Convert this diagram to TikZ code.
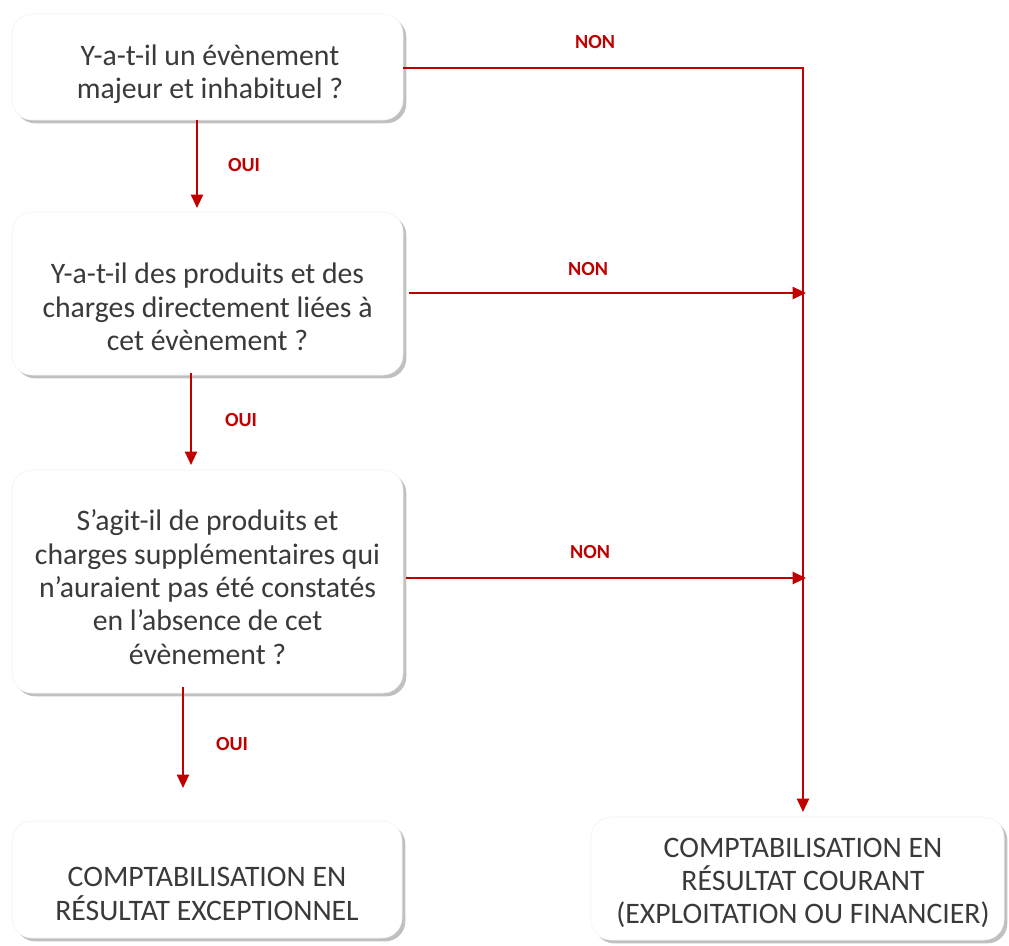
\documentclass[tikz,border=0pt]{standalone}
\usepackage{fontspec}
\setmainfont{Carlito}
\usetikzlibrary{arrows.meta,shadows}

\definecolor{rouge}{HTML}{C00000}
\definecolor{texte}{HTML}{3A3A3A}

\tikzset{
  boite/.style={draw=gray!10, fill=white, rounded corners=15pt,
    drop shadow={shadow xshift=2.5pt, shadow yshift=-2.5pt, fill=black!45, opacity=0.55}},
  txt/.style={align=center, text=texte, inner sep=0pt, font=\fontsize{22.3}{25}\selectfont},
  lien/.style={draw=rouge, line width=1.5pt, -{Triangle[length=10pt,width=9pt]}},
  etiq/.style={text=rouge, font=\fontsize{15}{17}\bfseries\selectfont, inner sep=0pt},
}

\begin{document}
\begin{tikzpicture}[x=0.75pt,y=0.75pt,yscale=-1,xscale=1]
\useasboundingbox (0,0) rectangle (1009,945);

%Shape: Rounded Rect [id:q1] 
\node[boite, minimum width=293.25pt, minimum height=79.5pt] (q1) at (207.5,67) {};
%Shape: Rounded Rect [id:q2] 
\node[boite, minimum width=293.25pt, minimum height=122.25pt] (q2) at (207.5,293.5) {};
%Shape: Rounded Rect [id:q3] 
\node[boite, minimum width=293.25pt, minimum height=167.25pt] (q3) at (207.5,581.5) {};
%Shape: Rounded Rect [id:exc] 
\node[boite, minimum width=292.5pt, minimum height=87.75pt] (exc) at (207,879.5) {};
%Shape: Rounded Rect [id:cour] 
\node[boite, minimum width=309.75pt, minimum height=92.25pt] (cour) at (797.5,878.5) {};

% Text Node
\node[txt] (q1t) at (210,74) {Y-a-t-il un évènement\\majeur et inhabituel ?};
% Text Node
\node[txt] (q2t) at (207.5,307) {Y-a-t-il des produits et des\\charges directement liées à\\cet évènement ?};
% Text Node
\node[txt] (q3t) at (207.5,587) {S’agit-il de produits et\\charges supplémentaires qui\\n’auraient pas été constatés\\en l’absence de cet\\évènement ?};
% Text Node
\node[txt] (exct) at (207,894) {COMPTABILISATION EN\\RÉSULTAT EXCEPTIONNEL};
% Text Node
\node[txt] (court) at (803,883) {COMPTABILISATION EN\\RÉSULTAT COURANT\\(EXPLOITATION OU FINANCIER)};

\coordinate (c1) at (803,68);
\coordinate (c2) at (806,293);
\coordinate (c3) at (806,578);
\coordinate (col) at (803,812);
\coordinate (fin1) at (197,208);
\coordinate (fin2) at (191,465);
\coordinate (fin3) at (183,788);

%Straight Lines [id:oui1] 
\draw[lien] (q1.south -| fin1) -- (fin1);
%Straight Lines [id:oui2] 
\draw[lien] ([yshift=-2pt]q2.south -| fin2) -- (fin2);
%Straight Lines [id:oui3] 
\draw[lien] ([yshift=-5pt]q3.south -| fin3) -- (fin3);
%Straight Lines [id:non1] 
\draw[lien] (q1.east |- c1) -- (c1) -- (col);
%Straight Lines [id:non2] 
\draw[lien] ([xshift=4pt]q2.east |- c2) -- (c2);
%Straight Lines [id:non3] 
\draw[lien] ([xshift=2pt]q3.east |- c3) -- (c3);

% Text Node
\node[etiq] (n1) at (595,42) {NON};
% Text Node
\node[etiq] (n2) at (588,269) {NON};
% Text Node
\node[etiq] (n3) at (590,552) {NON};
% Text Node
\node[etiq] (o1) at (244,165) {OUI};
% Text Node
\node[etiq] (o2) at (241,420) {OUI};
% Text Node
\node[etiq] (o3) at (232,744) {OUI};

\end{tikzpicture}
\end{document}
